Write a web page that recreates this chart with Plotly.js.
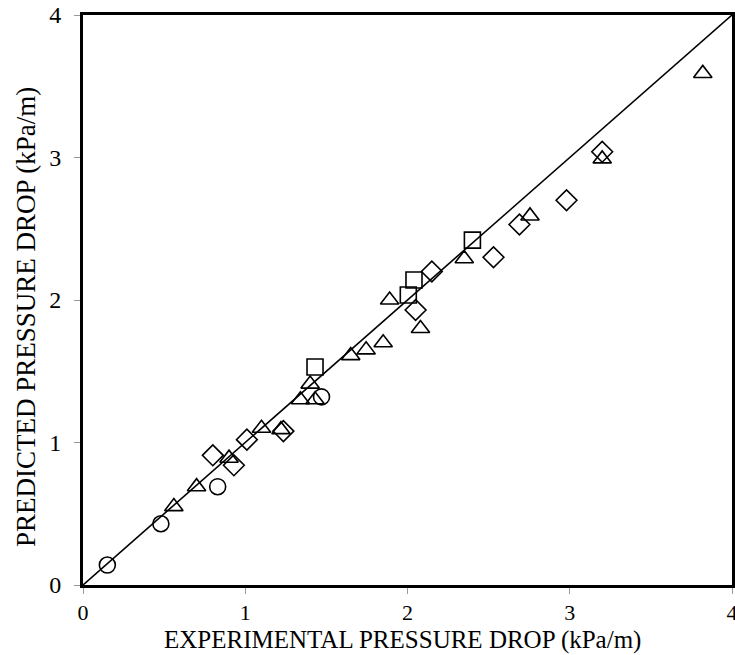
<!DOCTYPE html>
<html>
<head>
<meta charset="utf-8">
<script src="https://cdn.plot.ly/plotly-3.0.1.min.js"></script>
<style>
  html, body { margin: 0; padding: 0; background: #fff; }
  #chart { width: 735px; height: 655px; }
</style>
</head>
<body>
<div id="chart"></div>
<script>
// Predicted vs. experimental pressure drop (kPa/m), four data sets
const circleX = [0.15, 0.48, 0.83, 1.47];
const circleY = [0.14, 0.43, 0.69, 1.32];

const triangleX = [0.56, 0.70, 0.90, 1.10, 1.22, 1.34, 1.43, 1.40, 1.65, 1.745, 1.85, 1.89, 2.08, 2.35, 2.755, 3.20, 3.82];
const triangleY = [0.55, 0.69, 0.89, 1.10, 1.09, 1.30, 1.30, 1.41, 1.61, 1.65, 1.70, 2.00, 1.80, 2.29, 2.59, 2.99, 3.59];

const squareX = [1.43, 2.005, 2.04, 2.40];
const squareY = [1.53, 2.035, 2.14, 2.42];

const diamondX = [0.80, 0.93, 1.01, 1.235, 2.05, 2.15, 2.53, 2.69, 2.98, 3.20];
const diamondY = [0.91, 0.84, 1.02, 1.08, 1.93, 2.20, 2.30, 2.53, 2.70, 3.04];

// 1:1 parity line
const parityX = [0, 4];
const parityY = [0, 4];

const tickVals = [0, 1, 2, 3, 4];
const tickText = ['0', '1', '2', '3', '4'];

const xTitle = 'EXPERIMENTAL PRESSURE DROP (kPa/m)';
const yTitle = 'PREDICTED PRESSURE DROP (kPa/m)';

const serif = 'Liberation Serif, Times New Roman, serif';

function openMarkers(x, y, symbol, size) {
  return {
    x: x, y: y, type: 'scatter', mode: 'markers',
    marker: { symbol: symbol, size: size, color: '#000', line: { color: '#000', width: 1.6 } },
    showlegend: false, hoverinfo: 'x+y'
  };
}

const traces = [
  { x: parityX, y: parityY, type: 'scatter', mode: 'lines',
    line: { color: '#000', width: 1.6 }, showlegend: false, hoverinfo: 'skip' },
  openMarkers(circleX, circleY, 'circle-open', 16),
  openMarkers(triangleX, triangleY, 'triangle-up-open', 16),
  openMarkers(squareX, squareY, 'square-open', 16),
  openMarkers(diamondX, diamondY, 'diamond-open', 16)
];

const axisCommon = {
  range: [0, 4],
  tickvals: tickVals,
  ticktext: tickText,
  ticks: 'outside',
  ticklen: 6,
  tickwidth: 1,
  tickcolor: '#999',
  showgrid: false,
  zeroline: false,
  showline: true,
  linecolor: '#000',
  linewidth: 3,
  mirror: true
};

const layout = {
  width: 735,
  height: 655,
  margin: { l: 83, r: 3, t: 15, b: 70 },
  paper_bgcolor: '#fff',
  plot_bgcolor: '#fff',
  xaxis: Object.assign({}, axisCommon, {
    ticklabelstandoff: 0,
    ticklabeloverflow: 'allow',
    tickfont: { family: serif, size: 22, color: '#000' }
  }),
  yaxis: Object.assign({}, axisCommon, {
    ticklabelstandoff: 8,
    tickfont: { family: serif, size: 24, color: '#000' }
  }),
  annotations: [
    { text: xTitle, xref: 'paper', yref: 'paper', x: 0.493, y: -0.0965, xanchor: 'center', yanchor: 'middle',
      showarrow: false, font: { family: serif, size: 25, color: '#000' } },
    { text: yTitle, xref: 'paper', yref: 'paper', x: -0.088, y: 0.47, xanchor: 'center', yanchor: 'middle',
      textangle: -90, showarrow: false, font: { family: serif, size: 27, color: '#000' } }
  ]
};

Plotly.newPlot('chart', traces, layout, { displayModeBar: false, staticPlot: true });
</script>
</body>
</html>
